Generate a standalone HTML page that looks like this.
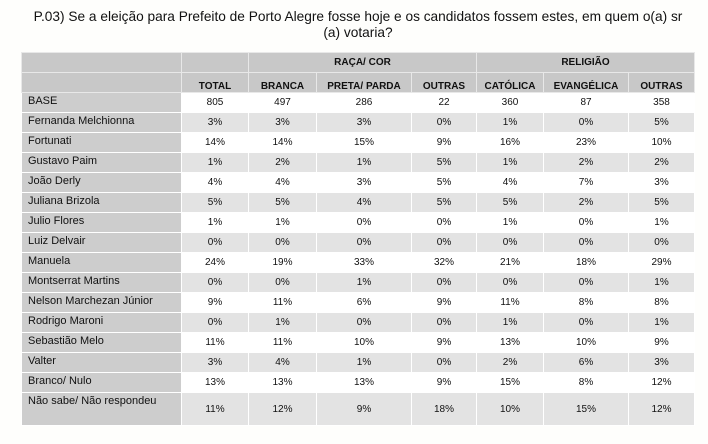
<!DOCTYPE html>
<html><head><meta charset="utf-8">
<style>
body{margin:0;width:708px;height:444px;background:#fefefc;font-family:"Liberation Sans",sans-serif;overflow:hidden;position:relative}
#title{position:absolute;left:0;top:9px;width:716px;text-align:center;font-size:13.7px;line-height:16px;color:#111}
table{position:absolute;left:21px;top:52px;border-collapse:collapse;font-size:10px;color:#111}
td{border:1px solid #fff;padding:0;height:19px;text-align:center}
td.l{text-align:left;padding-left:6px;background:#cdcdcd;vertical-align:top;line-height:17px;font-size:11px}
tr.w td.v{background:#fff}
tr.g td.v{background:#e3e3e3}
tr.h td{background:#c8c8c8;font-weight:bold;height:19px;border-color:#e8e8e8}
tr.h2 td{vertical-align:bottom}
</style></head><body>
<div id="title">P.03) Se a eleição para Prefeito de Porto Alegre fosse hoje e os candidatos fossem estes, em quem o(a) sr<br>(a) votaria?</div>
<table>
<colgroup><col style="width:160px"><col style="width:67px"><col style="width:68px"><col style="width:95px"><col style="width:65px"><col style="width:67px"><col style="width:85px"><col style="width:66px"></colgroup>
<tr class="h"><td></td><td></td><td colspan="3">RAÇA/ COR</td><td colspan="3">RELIGIÃO</td></tr>
<tr class="h h2"><td></td><td>TOTAL</td><td>BRANCA</td><td>PRETA/ PARDA</td><td>OUTRAS</td><td>CATÓLICA</td><td>EVANGÉLICA</td><td>OUTRAS</td></tr>
<tbody id="body"></tbody>
</table>
<script>
const labels=["BASE","Fernanda Melchionna","Fortunati","Gustavo Paim","João Derly","Juliana Brizola","Julio Flores","Luiz Delvair","Manuela","Montserrat Martins","Nelson Marchezan Júnior","Rodrigo Maroni","Sebastião Melo","Valter","Branco/ Nulo","Não sabe/ Não respondeu"];
const values=[
["805","497","286","22","360","87","358"],
["3%","3%","3%","0%","1%","0%","5%"],
["14%","14%","15%","9%","16%","23%","10%"],
["1%","2%","1%","5%","1%","2%","2%"],
["4%","4%","3%","5%","4%","7%","3%"],
["5%","5%","4%","5%","5%","2%","5%"],
["1%","1%","0%","0%","1%","0%","1%"],
["0%","0%","0%","0%","0%","0%","0%"],
["24%","19%","33%","32%","21%","18%","29%"],
["0%","0%","1%","0%","0%","0%","1%"],
["9%","11%","6%","9%","11%","8%","8%"],
["0%","1%","0%","0%","1%","0%","1%"],
["11%","11%","10%","9%","13%","10%","9%"],
["3%","4%","1%","0%","2%","6%","3%"],
["13%","13%","13%","9%","15%","8%","12%"],
["11%","12%","9%","18%","10%","15%","12%"]];
const body=document.getElementById('body');
labels.forEach((lab,i)=>{
  const tr=document.createElement('tr');
  tr.className=i%2?'g':'w';
  
  
  const th=document.createElement('td');th.className='l';th.textContent=lab;
  
  
  if(i===labels.length-1){th.style.height='32px';}
  tr.appendChild(th);
  values[i].forEach(v=>{
    const td=document.createElement('td');td.className='v';td.textContent=v;
    
    
    tr.appendChild(td);
  });
  body.appendChild(tr);
});
</script>
</body></html>
